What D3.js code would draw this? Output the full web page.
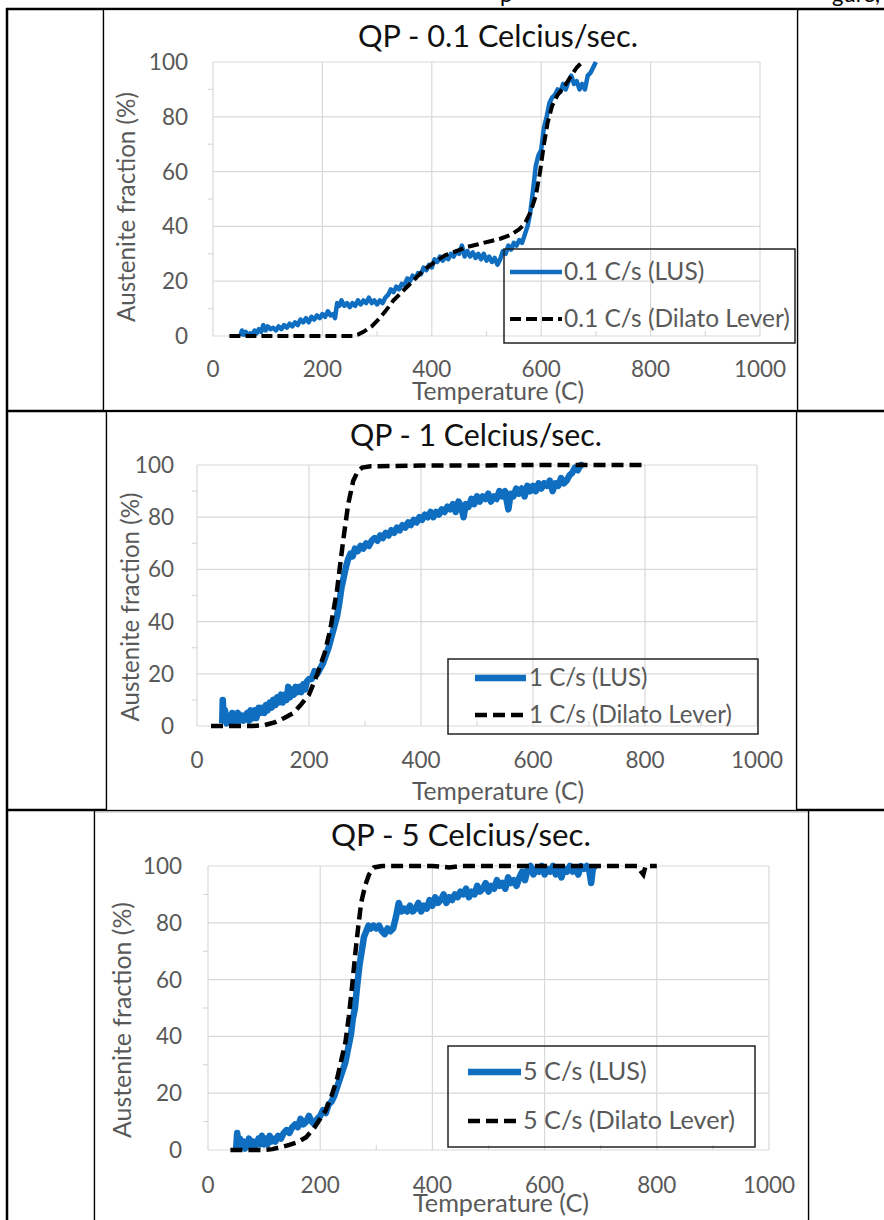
<!DOCTYPE html>
<html><head><meta charset="utf-8">
<script src="https://cdn.jsdelivr.net/npm/d3@7/dist/d3.min.js"></script>
<style>
body{margin:0;background:#fff}
svg{display:block}
text{font-family:Lato,"Open Sans",sans-serif}
</style>
</head><body>
<svg id="c" width="884" height="1220"></svg>
<script>
// ---------- data ----------
const xTicks = [0, 200, 400, 600, 800, 1000];
const yTicks = [0, 20, 40, 60, 80, 100];
const xMinor = [100, 300, 500, 700, 900];
const yMinor = [10, 30, 50, 70, 90];
const chartTitles = ["QP - 0.1 Celcius/sec.", "QP - 1 Celcius/sec.", "QP - 5 Celcius/sec."];
const lusLabels = ["0.1 C/s (LUS)", "1 C/s (LUS)", "5 C/s (LUS)"];
const dilLabels = ["0.1 C/s (Dilato Lever)", "1 C/s (Dilato Lever)", "5 C/s (Dilato Lever)"];
const xTitle = "Temperature (C)";
const yTitle = "Austenite fraction (%)";

const lus01 = [[50,0],[53,2],[56,0.5],[60,1.5],[64,0],[68,1],[72,0.5],[76,2],[80,1],[84,2.5],[88,1.5],[92,4],[96,2],[100,3.5],[105,2.5],[110,3],[115,2],[120,3.5],[125,2.5],[130,4],[135,3],[140,4.5],[145,3.5],[150,5],[155,4],[160,6],[165,5],[170,6.5],[175,5],[180,7],[185,6],[190,7.5],[195,6.5],[200,8],[205,7],[210,9],[215,7.5],[220,8],[223,6.5],[227,12],[231,11],[235,13],[240,11],[245,12],[250,10.5],[255,12],[260,11],[265,13],[270,11.5],[275,13],[280,12],[285,14],[290,12],[295,13],[300,11.5],[305,13],[310,12],[315,14],[320,15],[325,17],[330,16],[335,18],[340,17],[345,19],[350,18.5],[355,21],[360,20],[365,22],[370,21],[375,23],[380,22.5],[385,25],[390,24],[395,26],[400,25],[405,28],[410,27],[415,29],[420,27.5],[425,29],[430,28],[435,30],[440,29],[445,31],[450,30],[455,33],[460,29],[465,31],[470,29],[475,30.5],[480,28.5],[485,30],[490,28],[495,30],[500,27.5],[505,29],[510,27],[515,28.5],[520,26],[525,28],[530,31],[535,30],[540,33],[545,31.5],[550,34],[555,33],[560,35],[565,34],[570,37],[575,40],[580,45],[585,53],[590,62],[595,66],[600,68],[605,76],[610,80],[615,85],[620,87],[625,88],[630,90],[635,89],[640,92],[645,90],[650,93],[655,95],[660,92],[665,93],[670,90],[675,92],[680,90],[685,95],[690,96],[695,98],[700,100]];
const dil01 = [[30,0],[80,0],[150,0],[200,0],[255,0],[265,0.5],[275,1.5],[290,3.5],[300,5.5],[315,9],[330,13],[345,16],[365,20],[385,24],[405,27],[425,29.5],[445,31],[465,32.5],[485,33.5],[505,34.5],[525,35.5],[545,37],[560,39],[570,41],[580,45],[590,51],[598,60],[605,70],[612,78],[620,84],[630,88],[642,91],[655,95],[665,98],[675,100]];

const lus1 = [[45,1],[46,10],[48,2],[50,6],[53,1],[56,4],[60,1],[63,5],[66,1],[70,3],[73,5],[76,2],[80,4],[83,2],[86,4],[90,5],[93,2],[96,6],[100,3],[103,6],[106,3],[110,7],[113,5],[116,7],[120,5],[123,8],[126,6],[130,9],[133,7],[136,10],[140,8],[143,11],[146,9],[150,12],[153,9],[156,12],[160,10],[163,15],[166,11],[170,14],[173,12],[176,15],[180,13],[183,15],[186,13],[190,16],[193,14],[196,17],[200,18],[205,18],[210,21],[215,20],[220,22],[225,24],[230,27],[235,30],[240,34],[245,38],[250,42],[254,47],[258,53],[262,57],[266,61],[270,64],[274,66],[278,65],[282,68],[287,67],[292,69],[297,68],[302,70],[307,69],[312,71],[317,72],[322,71],[327,73],[332,72],[337,74],[342,73],[347,75],[352,74],[357,76],[362,75],[367,77],[372,76],[377,78],[382,77],[387,79],[392,78],[397,80],[402,79],[407,81],[412,80],[417,82],[422,80],[427,82],[432,81],[437,83],[442,82],[447,84],[452,83],[457,85],[462,82],[467,86],[472,84],[476,80],[480,85],[485,84],[490,87],[495,85],[500,88],[505,86],[510,88],[515,87],[520,89],[525,86],[530,88],[535,87],[540,90],[545,88],[550,90],[556,83],[560,89],[565,88],[570,91],[575,89],[580,91],[585,88],[590,92],[595,90],[600,92],[605,90],[610,93],[615,91],[620,93],[625,92],[630,94],[635,90],[640,93],[645,92],[650,95],[655,93],[660,94],[665,96],[670,97],[675,99],[680,98],[685,100],[690,100]];
const dil1 = [[25,0],[60,0],[100,0],[120,0.3],[140,1.5],[155,3],[172,5],[185,8],[200,12],[215,20],[228,28],[238,37],[250,52],[261,71],[270,85],[279,94],[287,97.5],[295,99],[310,99.5],[400,99.8],[500,99.8],[600,100],[700,100],[800,100]];

const lus5 = [[50,0],[52,6],[54,2],[57,4],[60,1],[63,3],[66,0.5],[70,2],[73,4],[76,1],[80,3],[83,1],[86,2],[90,4],[93,2],[96,5],[100,2],[103,4],[106,2],[110,5],[113,3],[116,4],[120,3],[125,5],[130,4],[135,6],[140,7],[145,6],[150,8],[155,9],[160,8],[165,11],[170,9],[175,10],[180,12],[185,10],[190,9],[195,11],[200,12],[205,14],[210,13],[215,16],[220,17],[225,19],[230,22],[235,25],[240,28],[245,31],[250,36],[255,41],[258,46],[262,50],[266,58],[270,65],[274,70],[278,75],[282,77],[286,79],[290,78],[295,79],[300,78],[305,79],[310,77],[315,76],[320,78],[325,77],[330,78],[335,82],[340,87],[345,84],[350,85],[355,84],[360,86],[365,84],[370,85],[375,87],[380,84],[385,86],[390,85],[395,88],[400,86],[405,89],[410,87],[415,88],[420,90],[425,87],[430,89],[435,88],[440,90],[445,89],[450,91],[455,90],[460,92],[465,89],[470,91],[475,90],[480,93],[485,91],[490,92],[495,94],[500,91],[505,93],[510,92],[515,95],[520,93],[525,94],[530,92],[535,96],[540,94],[545,95],[550,93],[555,96],[560,98],[565,95],[570,99],[575,100],[580,97],[585,99],[590,98],[595,100],[600,97],[605,99],[610,98],[615,100],[620,97],[625,99],[630,96],[635,99],[640,98],[645,100],[650,98],[655,99],[660,97],[665,100],[670,99],[675,100],[680,98],[683,94],[686,99],[690,100]];
const dil5 = [[40,0],[70,0],[100,0],[115,0.3],[130,1],[145,1.8],[160,2.8],[175,4.5],[190,8],[200,11],[210,14],[220,19],[230,25],[238,32],[245,38],[251,47],[257,58],[263,70],[268,79],[273,87],[280,93],[287,97],[296,99.5],[310,100],[400,100],[430,99.5],[450,100],[600,100],[700,100],[765,100],[772,98],[776,97],[780,100],[800,100]];

const topTextPieces = ["p", "gure,"];

// ---------- layout ----------
const layouts = [
  {frame:[104,10,797,410], plot:{l:213,r:760,t:62,b:336}, title:{cx:498,base:47,w:280},
   yT:{cx:128,cy:207,len:230}, xT:{cx:498,base:400,w:172}, xLab:377, yLabGap:25,
   leg:{x0:504,y0:249,x1:795,y1:343,e1:272,e2:319,s0:510,s1:562,tx:564,tw:226}, lw:4.5, dw:4, dash:"11,5"},
  {frame:[107,412,796,810], plot:{l:197,r:757,t:465,b:726}, title:{cx:476,base:446,w:252},
   yT:{cx:132,cy:607,len:229}, xT:{cx:498,base:800,w:172}, xLab:768, yLabGap:23,
   leg:{x0:448,y0:659,x1:758,y1:734,e1:678,e2:715,s0:475,s1:526,tx:529,tw:203}, lw:6.5, dw:4.5, dash:"12,6"},
  {frame:[95,812,808,1222], plot:{l:208,r:769,t:866,b:1150}, title:{cx:461,base:846,w:260},
   yT:{cx:124,cy:1020,len:236}, xT:{cx:501,base:1212,w:176}, xLab:1193, yLabGap:26,
   leg:{x0:448,y0:1046,x1:755,y1:1147,e1:1072,e2:1121,s0:468,s1:521,tx:523,tw:212}, lw:6.5, dw:4.5, dash:"12,6"}
];
const seriesLUS = [lus01, lus1, lus5];
const seriesDil = [dil01, dil1, dil5];

const BLUE = "#0f6ec0", GRID = "#d9d9d9", TXT = "#595959";
const svg = d3.select("#c");

function fitWidth(sel, target) {
  const w = sel.node().getComputedTextLength();
  const fs = parseFloat(sel.attr("font-size"));
  sel.attr("font-size", (fs * target / w).toFixed(2));
}

// table lines
const tbl = svg.append("g").attr("stroke", "#000");
tbl.append("line").attr("x1", 6).attr("x2", 884).attr("y1", 9).attr("y2", 9).attr("stroke-width", 2.5);
tbl.append("line").attr("x1", 7).attr("x2", 7).attr("y1", 8).attr("y2", 1220).attr("stroke-width", 2.5);
tbl.append("line").attr("x1", 6).attr("x2", 884).attr("y1", 411).attr("y2", 411).attr("stroke-width", 2.5);
tbl.append("line").attr("x1", 6).attr("x2", 884).attr("y1", 810).attr("y2", 810).attr("stroke-width", 2.5);

// top text fragments (cut off line above the table)
svg.append("text").attr("x", 500).attr("y", 2).attr("font-size", 22).attr("fill", "#000").text(topTextPieces[0]);
svg.append("text").attr("x", 832).attr("y", 2).attr("font-size", 22).attr("fill", "#000").text(topTextPieces[1]);

layouts.forEach((L, i) => {
  const g = svg.append("g");
  const [fx0, fy0, fx1, fy1] = L.frame;
  g.append("line").attr("x1", fx0 - 0.5).attr("x2", fx0 - 0.5).attr("y1", fy0 - 1).attr("y2", fy1).attr("stroke", "#000").attr("stroke-width", 1.5);
  g.append("line").attr("x1", fx1 + 0.5).attr("x2", fx1 + 0.5).attr("y1", fy0 - 1).attr("y2", fy1).attr("stroke", "#000").attr("stroke-width", 1.5);
  g.append("rect").attr("x", fx0 + 0.5).attr("y", fy0 + 0.5).attr("width", fx1 - fx0 - 1).attr("height", fy1 - fy0 - 1)
    .attr("fill", "#fff").attr("stroke", GRID).attr("stroke-width", 1);

  const P = L.plot;
  const x = d3.scaleLinear().domain([0, 1000]).range([P.l, P.r]);
  const y = d3.scaleLinear().domain([0, 100]).range([P.b, P.t]);

  g.append("g").selectAll("line").data(yTicks).join("line")
    .attr("x1", P.l).attr("x2", P.r).attr("y1", d => y(d)).attr("y2", d => y(d))
    .attr("stroke", GRID).attr("stroke-width", 1.2);
  g.append("g").selectAll("line").data(xTicks).join("line")
    .attr("x1", d => x(d)).attr("x2", d => x(d)).attr("y1", P.t).attr("y2", P.b)
    .attr("stroke", GRID).attr("stroke-width", 1.2);
  g.append("g").selectAll("line").data(yMinor).join("line")
    .attr("x1", P.l - 5).attr("x2", P.l).attr("y1", d => y(d)).attr("y2", d => y(d))
    .attr("stroke", GRID).attr("stroke-width", 1.2);
  g.append("g").selectAll("line").data(xMinor).join("line")
    .attr("x1", d => x(d)).attr("x2", d => x(d)).attr("y1", P.b).attr("y2", P.b - 5)
    .attr("stroke", GRID).attr("stroke-width", 1.2);

  g.append("g").selectAll("text").data(yTicks).join("text")
    .attr("x", P.l - L.yLabGap).attr("y", d => y(d) + 8).attr("text-anchor", "end")
    .attr("font-size", 22.5).attr("fill", TXT).text(d => d);
  g.append("g").selectAll("text").data(xTicks).join("text")
    .attr("x", d => x(d)).attr("y", L.xLab).attr("text-anchor", "middle")
    .attr("font-size", 22.5).attr("fill", TXT).text(d => d);

  const xt = g.append("text").attr("x", L.xT.cx).attr("y", L.xT.base).attr("text-anchor", "middle")
    .attr("font-size", 20).attr("fill", TXT).text(xTitle);
  fitWidth(xt, L.xT.w);
  const yt = g.append("text").attr("text-anchor", "middle")
    .attr("transform", `translate(${L.yT.cx + 7},${L.yT.cy}) rotate(-90)`)
    .attr("font-size", 20).attr("fill", TXT).text(yTitle);
  fitWidth(yt, L.yT.len);

  const tt = g.append("text").attr("x", L.title.cx).attr("y", L.title.base).attr("text-anchor", "middle")
    .attr("font-size", 26).attr("fill", "#111").text(chartTitles[i]);
  fitWidth(tt, L.title.w);

  const line = d3.line().x(d => x(d[0])).y(d => y(d[1]));
  g.append("path").datum(seriesLUS[i]).attr("d", line).attr("fill", "none")
    .attr("stroke", BLUE).attr("stroke-width", L.lw).attr("stroke-linejoin", "round");
  g.append("path").datum(seriesDil[i]).attr("d", line).attr("fill", "none")
    .attr("stroke", "#000").attr("stroke-width", L.dw).attr("stroke-dasharray", L.dash);

  const lg = L.leg;
  g.append("rect").attr("x", lg.x0).attr("y", lg.y0).attr("width", lg.x1 - lg.x0).attr("height", lg.y1 - lg.y0)
    .attr("fill", "none").attr("stroke", "#222").attr("stroke-width", 1.5);
  g.append("line").attr("x1", lg.s0).attr("x2", lg.s1).attr("y1", lg.e1).attr("y2", lg.e1)
    .attr("stroke", BLUE).attr("stroke-width", L.lw);
  g.append("line").attr("x1", lg.s0).attr("x2", lg.s1).attr("y1", lg.e2).attr("y2", lg.e2)
    .attr("stroke", "#000").attr("stroke-width", L.dw).attr("stroke-dasharray", L.dash);
  const t2 = g.append("text").attr("x", lg.tx).attr("y", lg.e2 + 8).attr("font-size", 22).attr("fill", TXT).text(dilLabels[i]);
  fitWidth(t2, lg.tw);
  g.append("text").attr("x", lg.tx).attr("y", lg.e1 + 8).attr("font-size", t2.attr("font-size")).attr("fill", TXT).text(lusLabels[i]);
});
</script>
</body></html>
